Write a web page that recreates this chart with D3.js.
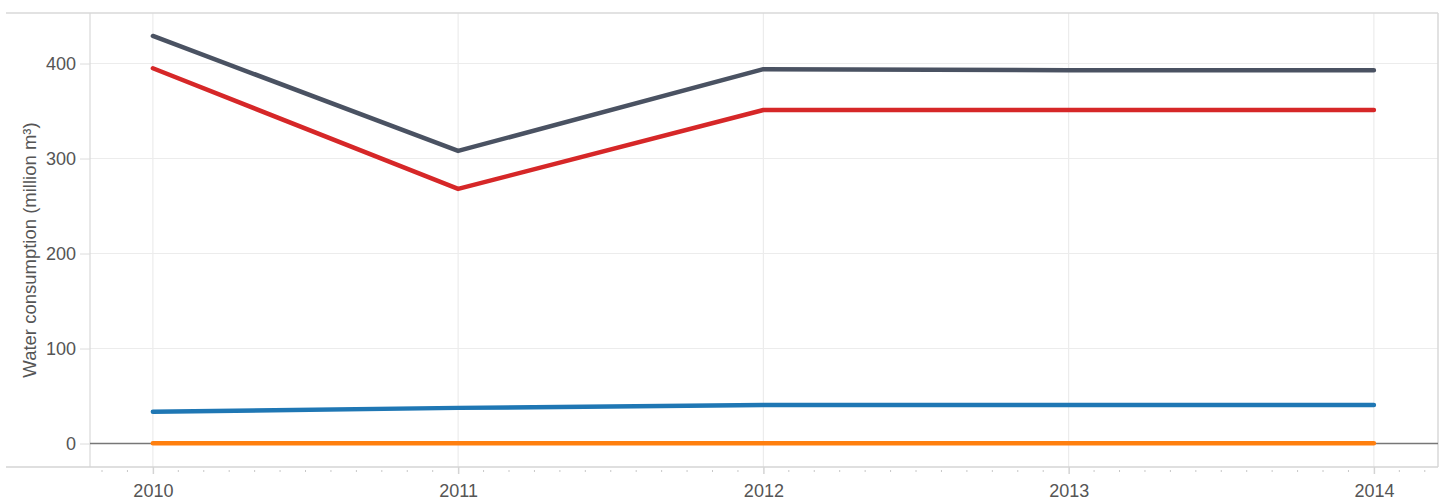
<!DOCTYPE html>
<html><head><meta charset="utf-8">
<script src="https://cdn.jsdelivr.net/npm/d3@7"></script>
<style>body{margin:0;background:#fff;} text{font-family:"Liberation Sans",Arial,sans-serif;}</style>
</head><body>
<svg id="c" width="1445" height="501"></svg>
<script>
const years = [2010, 2011, 2012, 2013, 2014];
const seriesNames = ["Total", "Agriculture", "Industry", "Domestic"];
const seriesColors = ["#4a5262", "#d62728", "#1f77b4", "#ff7f0e"];
const totalValues = [429, 308, 394, 393, 393];
const agricultureValues = [395, 268, 351, 351, 351];
const industryValues = [33.5, 37.5, 40.5, 40.5, 40.5];
const domesticValues = [0.3, 0.3, 0.3, 0.3, 0.3];
const yTicks = [0, 100, 200, 300, 400];
const yTitle = "Water consumption (million m³)";

const series = [totalValues, agricultureValues, industryValues, domesticValues];
const svg = d3.select("#c");
const frame = {l: 6, r: 1438, t: 13, b: 467};
const plotL = 90;
const x = d3.scaleLinear().domain([2009.794, 2014.21]).range([plotL, frame.r]);
const y = d3.scaleLinear().domain([0, 400]).range([443.5, 63.5]);
const FS = 18;

// gridlines
svg.append("g").selectAll("line").data(yTicks).join("line")
  .attr("x1", plotL).attr("x2", frame.r).attr("y1", d => y(d)).attr("y2", d => y(d))
  .attr("stroke", "#ececec").attr("stroke-width", 1.2);
svg.append("g").selectAll("line").data(years).join("line")
  .attr("x1", d => x(d)).attr("x2", d => x(d)).attr("y1", frame.t).attr("y2", frame.b)
  .attr("stroke", "#ececec").attr("stroke-width", 1.2);

// frame
svg.append("line").attr("x1", frame.l).attr("x2", frame.r).attr("y1", frame.t).attr("y2", frame.t).attr("stroke", "#d9d9d9").attr("stroke-width", 1.5);
svg.append("line").attr("x1", frame.r).attr("x2", frame.r).attr("y1", frame.t).attr("y2", frame.b).attr("stroke", "#d9d9d9").attr("stroke-width", 1.5);
svg.append("line").attr("x1", plotL).attr("x2", plotL).attr("y1", frame.t).attr("y2", frame.b).attr("stroke", "#d9d9d9").attr("stroke-width", 1.2);
svg.append("line").attr("x1", frame.l).attr("x2", frame.r).attr("y1", frame.b).attr("y2", frame.b).attr("stroke", "#d4d4d4").attr("stroke-width", 1.5);

// zero line
svg.append("line").attr("x1", plotL).attr("x2", frame.r).attr("y1", y(0)).attr("y2", y(0)).attr("stroke", "#777").attr("stroke-width", 1.3);

// y axis
const yAxis = d3.axisLeft(y).tickValues(yTicks).tickSize(10).tickPadding(4);
const gy = svg.append("g").attr("transform", `translate(${plotL},0)`).call(yAxis);
gy.select(".domain").remove();
gy.selectAll(".tick line").attr("stroke", "#dcdcdc");
gy.selectAll(".tick text").attr("fill", "#555").attr("font-size", FS);

// minor monthly ticks
const months = d3.range(Math.ceil(2009.794 * 12), Math.floor(2014.21 * 12) + 1).map(m => m / 12).filter(v => Math.abs(v - Math.round(v)) > 1e-6);
svg.append("g").selectAll("line").data(months).join("line")
  .attr("x1", d => x(d)).attr("x2", d => x(d)).attr("y1", frame.b + 3).attr("y2", frame.b + 5)
  .attr("stroke", "#c8c8c8").attr("stroke-width", 1);

// x axis
const xAxis = d3.axisBottom(x).tickValues(years).tickFormat(d3.format("d")).tickSize(7).tickPadding(10);
const gx = svg.append("g").attr("transform", `translate(0,${frame.b})`).call(xAxis);
gx.select(".domain").remove();
gx.selectAll(".tick line").attr("stroke", "#d4d4d4").attr("stroke-width", 1.5);
gx.selectAll(".tick text").attr("fill", "#555").attr("font-size", FS);

// y title
svg.append("text").attr("transform", `translate(36,250) rotate(-90)`)
  .attr("text-anchor", "middle").attr("fill", "#555").attr("font-size", 18.5).text(yTitle);

// lines
const line = d3.line().x((d, i) => x(years[i])).y(d => y(d));
svg.append("g").selectAll("path").data(series).join("path")
  .attr("d", d => line(d)).attr("fill", "none")
  .attr("stroke", (d, i) => seriesColors[i]).attr("stroke-width", 4.5)
  .attr("stroke-linecap", "round").attr("stroke-linejoin", "round");
</script>
</body></html>
